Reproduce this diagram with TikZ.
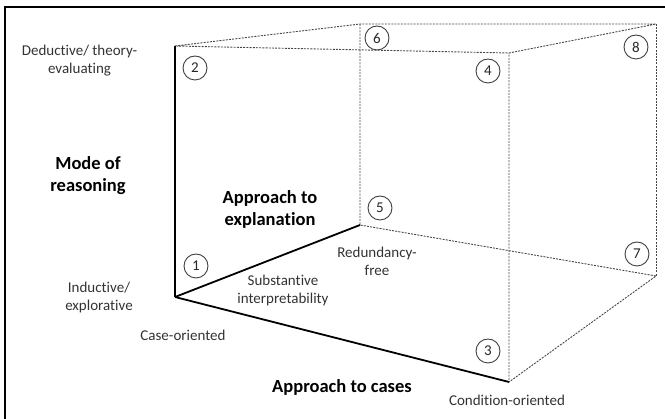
\documentclass[tikz,border=0pt]{standalone}
\usepackage{fontspec}
\setmainfont{Carlito}[Ligatures=NoCommon]
\usepackage{xcolor}

\begin{document}
\begin{tikzpicture}[x=1pt,y=-1pt]
          \tikzset{
            AxisStyle/.style = { line width=1.8pt, black },
            EdgeStyle/.style = { line width=0.9pt, color=gray!55!black,
              dash pattern=on 2pt off 1.2pt },
            CellStyle/.style = { circle, draw=gray!50!black, line width=0.9pt,
              minimum size=24pt, inner sep=0pt, text=black!85,
              font = \fontsize{15}{18}\selectfont },
            LabelStyle/.style = { align=center, text=black!80,
              font = \fontsize{15}{18}\selectfont },
            TitleStyle/.style = { align=center, text=black,
              font = \fontsize{18.5}{22}\selectfont\bfseries } }

          \useasboundingbox (0,0) rectangle (665,419);
          \draw[line width=2.5pt] (5,419) -- (5,7) -- (665,7);

          % corners of the cube
          \coordinate (Origin) at (175,297);
          \coordinate (Deductive) at (175,46);
          \coordinate (Redundancy) at (360,225);
          \coordinate (Condition) at (509,382);
          \coordinate (Back6) at (360,24);
          \coordinate (Front4) at (509,53);
          \coordinate (Back8) at (656,24);
          \coordinate (Back7) at (656,276);

          % axis labels
          \node[LabelStyle] (DeductiveLabel) at (79.5,61) {Deductive/ theory-\\evaluating};
          \node[LabelStyle] (InductiveLabel) at (99,298) {Inductive/\\explorative};
          \node[LabelStyle] (CaseLabel) at (183,335) {Case-oriented};
          \node[LabelStyle] (ConditionLabel) at (507,400) {Condition-oriented};
          \node[LabelStyle] (SubstantiveLabel) at (283,291) {Substantive\\interpretability};
          \node[LabelStyle] (RedundancyLabel) at (377,261.5) {Redundancy-\\free};
          \node[TitleStyle] (Mode) at (88,176) {Mode of\\reasoning};
          \node[TitleStyle] (Explanation) at (270,209) {Approach to\\explanation};
          \node[TitleStyle] (Cases) at (342,387) {Approach to cases};

          % numbered cells
          \node[CellStyle] (C1) at (196,266) {1};
          \node[CellStyle] (C2) at (195,68) {2};
          \node[CellStyle] (C3) at (488,351) {3};
          \node[CellStyle] (C4) at (488,71) {4};
          \node[CellStyle] (C5) at (380,208) {5};
          \node[CellStyle] (C6) at (377,38) {6};
          \node[CellStyle] (C7) at (637,254) {7};
          \node[CellStyle] (C8) at (636,47) {8};

          \draw[EdgeStyle] (Deductive) -- (Back6) -- (Back8) -- (Front4) -- (Deductive);
          \draw[EdgeStyle] (Back6) -- (Redundancy) -- (Back7) -- (Condition) -- (Front4);
          \draw[EdgeStyle] (Back8) -- (Back7);

          \draw[AxisStyle] (Deductive) -- (Origin);
          \draw[AxisStyle] (Origin) -- (Redundancy);
          \draw[AxisStyle] (Origin) -- (Condition);
        \end{tikzpicture}
\end{document}
